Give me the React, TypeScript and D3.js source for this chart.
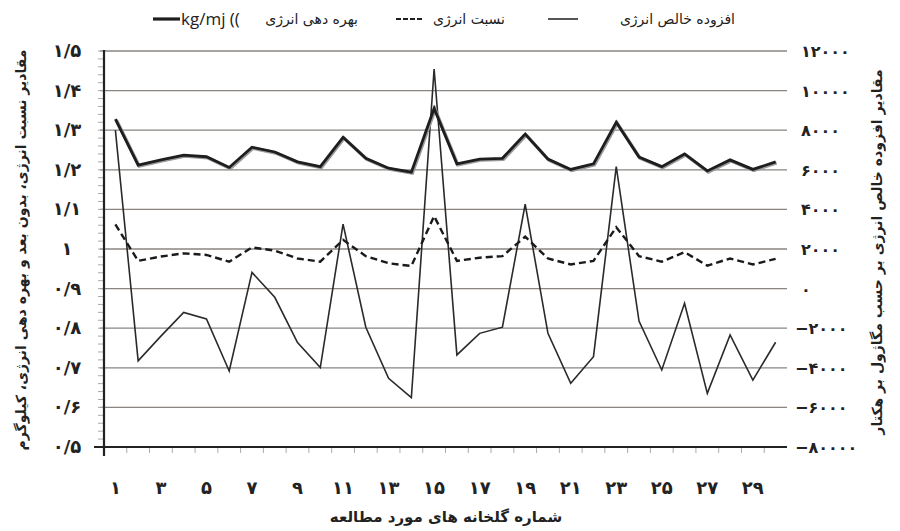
import React, { useEffect, useRef } from 'react';
import * as d3 from 'd3';

// greenhouse numbers 1..30
const greenhouses = d3.range(1, 31);

// energy productivity, kg/MJ (left axis, thick line)
const productivity = [
  1.328, 1.212, 1.225, 1.237, 1.233, 1.206, 1.257, 1.245, 1.22, 1.208,
  1.282, 1.229, 1.204, 1.194, 1.355, 1.215, 1.227, 1.229, 1.29, 1.227,
  1.201, 1.215, 1.32, 1.232, 1.208, 1.24, 1.197, 1.225, 1.201, 1.22,
];

// energy ratio (left axis, dashed line)
const energyRatio = [
  1.062, 0.97, 0.981, 0.989, 0.985, 0.968, 1.004, 0.996, 0.976, 0.968,
  1.023, 0.982, 0.964, 0.957, 1.083, 0.97, 0.978, 0.982, 1.031, 0.976,
  0.961, 0.97, 1.055, 0.982, 0.968, 0.992, 0.958, 0.976, 0.961, 0.975,
];

// net energy gain, MJ/ha (right axis, thin line)
const netEnergy = [
  8000, -3650, -2400, -1200, -1530, -4160, 820, -440, -2730, -3990,
  3260, -1950, -4530, -5510, 11090, -3350, -2260, -1950, 4260, -2260,
  -4780, -3440, 6160, -1640, -4110, -740, -5290, -2340, -4620, -2710,
];

const leftTicks = d3.range(5, 16).map(v => v / 10);
const leftTickLabels = ['۰/۵', '۰/۶', '۰/۷', '۰/۸', '۰/۹', '۱', '۱/۱', '۱/۲', '۱/۳', '۱/۴', '۱/۵'];
const rightTicks = d3.range(-8000, 12001, 2000);
const rightTickLabels = ['−۸۰۰۰۰', '−۶۰۰۰', '−۴۰۰۰', '−۲۰۰۰', '۰', '۲۰۰۰', '۴۰۰۰', '۶۰۰۰', '۸۰۰۰', '۱۰۰۰۰', '۱۲۰۰۰'];
const faDigits = '۰۱۲۳۴۵۶۷۸۹';
const toFa = (n: number) => String(n).split('').map(c => faDigits[+c]).join('');

const fontFa = '"DejaVu Sans", sans-serif';

const App: React.FC = () => {
  const svgRef = useRef<SVGSVGElement>(null);

  useEffect(() => {
    if (!svgRef.current) return;
    const svg = d3.select(svgRef.current);
    svg.selectAll('*').remove();

    const left = 104, right = 787, top = 51, bottom = 447;

    const x = d3.scaleBand<number>().domain(greenhouses).range([left, right]);
    const cx = (d: number) => (x(d) || 0) + x.bandwidth() / 2;
    const yL = d3.scaleLinear().domain([0.5, 1.5]).range([bottom, top]);
    const yR = d3.scaleLinear().domain([-8000, 12000]).range([bottom, top]);

    // gridlines
    svg.append('g')
      .selectAll('line')
      .data(leftTicks.slice(1))
      .enter()
      .append('line')
      .attr('x1', left - 4)
      .attr('x2', right)
      .attr('y1', d => yL(d))
      .attr('y2', d => yL(d))
      .attr('stroke', '#8a8580')
      .attr('stroke-width', 1.3);

    // minor ticks on left axis
    svg.append('g')
      .selectAll('line')
      .data(d3.range(50, 151, 2).map(v => v / 100))
      .enter()
      .append('line')
      .attr('x1', left - 6)
      .attr('x2', left)
      .attr('y1', d => yL(d))
      .attr('y2', d => yL(d))
      .attr('stroke', '#aaa')
      .attr('stroke-width', 1);

    // x ticks at band boundaries
    svg.append('g')
      .selectAll('line')
      .data(greenhouses.slice(1))
      .enter()
      .append('line')
      .attr('x1', d => x(d) || 0)
      .attr('x2', d => x(d) || 0)
      .attr('y1', bottom)
      .attr('y2', bottom + 6)
      .attr('stroke', '#aaa')
      .attr('stroke-width', 1);

    // axes lines
    svg.append('line')
      .attr('x1', left - 10).attr('x2', right)
      .attr('y1', bottom).attr('y2', bottom)
      .attr('stroke', '#222').attr('stroke-width', 2.2);
    svg.append('line')
      .attr('x1', left).attr('x2', left)
      .attr('y1', top - 1).attr('y2', bottom + 9)
      .attr('stroke', '#222').attr('stroke-width', 2.2);

    // left tick labels
    svg.append('g')
      .selectAll('text')
      .data(leftTicks)
      .enter()
      .append('text')
      .attr('x', 67)
      .attr('y', d => yL(d) + 6)
      .attr('text-anchor', 'middle')
      .attr('direction', 'ltr')
      .attr('font-family', fontFa)
      .attr('font-size', 18)
      .attr('font-weight', 'bold')
      .attr('fill', '#222')
      .text((d, i) => leftTickLabels[i]);

    // right tick labels
    svg.append('g')
      .selectAll('text')
      .data(rightTicks)
      .enter()
      .append('text')
      .attr('x', d => (d < 0 ? 795 : 801))
      .attr('y', d => yR(d) + 6)
      .attr('text-anchor', 'start')
      .attr('direction', 'ltr')
      .attr('font-family', fontFa)
      .attr('font-size', 16)
      .attr('font-weight', 'bold')
      .attr('letter-spacing', 1)
      .attr('fill', '#222')
      .text((d, i) => rightTickLabels[i]);

    // x tick labels (odd greenhouses)
    svg.append('g')
      .selectAll('text')
      .data(greenhouses.filter(d => d % 2 === 1))
      .enter()
      .append('text')
      .attr('x', d => cx(d))
      .attr('y', 494)
      .attr('text-anchor', 'middle')
      .attr('font-family', fontFa)
      .attr('font-size', 18)
      .attr('font-weight', 'bold')
      .attr('fill', '#222')
      .text(d => toFa(d));

    // series lines
    const lineL = d3.line<number>().x((d, i) => cx(greenhouses[i])).y(d => yL(d));
    const lineR = d3.line<number>().x((d, i) => cx(greenhouses[i])).y(d => yR(d));

    svg.append('path')
      .attr('d', lineR(netEnergy))
      .attr('fill', 'none')
      .attr('stroke', '#2a2a2a')
      .attr('stroke-width', 1.6)
      .attr('stroke-linejoin', 'miter');

    svg.append('path')
      .attr('d', lineL(energyRatio))
      .attr('fill', 'none')
      .attr('stroke', '#1a1a1a')
      .attr('stroke-width', 2.4)
      .attr('stroke-dasharray', '7,4');

    svg.append('path')
      .attr('d', lineL(productivity))
      .attr('fill', 'none')
      .attr('stroke', '#9a9a9a')
      .attr('stroke-width', 3.4)
      .attr('transform', 'translate(1,1)');
    svg.append('path')
      .attr('d', lineL(productivity))
      .attr('fill', 'none')
      .attr('stroke', '#1e1e1e')
      .attr('stroke-width', 2.8);

    // legend
    const lg = svg.append('g').attr('font-family', fontFa).attr('fill', '#222');
    lg.append('line').attr('x1', 153).attr('x2', 180).attr('y1', 19).attr('y2', 19)
      .attr('stroke', '#1e1e1e').attr('stroke-width', 3.2);
    lg.append('text').attr('x', 181).attr('y', 25).attr('font-size', 17)
      .attr('font-family', '"Open Sans", sans-serif').text('kg/mj ((');
    lg.append('text').attr('x', 358).attr('y', 24).attr('font-size', 14)
      .attr('text-anchor', 'start').attr('direction', 'rtl').text('بهره دهی انرژی');
    lg.append('line').attr('x1', 396).attr('x2', 424).attr('y1', 19).attr('y2', 19)
      .attr('stroke', '#1e1e1e').attr('stroke-width', 2.2).attr('stroke-dasharray', '5,2');
    lg.append('text').attr('x', 505).attr('y', 24).attr('font-size', 14)
      .attr('text-anchor', 'start').attr('direction', 'rtl').text('نسبت انرژی');
    lg.append('line').attr('x1', 548).attr('x2', 578).attr('y1', 19).attr('y2', 19)
      .attr('stroke', '#2a2a2a').attr('stroke-width', 1.6);
    lg.append('text').attr('x', 735).attr('y', 24).attr('font-size', 14)
      .attr('text-anchor', 'start').attr('direction', 'rtl').text('افزوده خالص انرژی');

    // axis titles
    svg.append('text')
      .attr('transform', 'translate(26,250) rotate(-90)')
      .attr('text-anchor', 'middle')
      .attr('direction', 'rtl')
      .attr('font-family', fontFa)
      .attr('font-size', 14)
      .attr('font-weight', 'bold')
      .attr('fill', '#222')
      .text('مقادیر نسبت انرژی، بدون بعد و بهره دهی انرژی، کیلوگرم');
    svg.append('text')
      .attr('transform', 'translate(882,252) rotate(-90)')
      .attr('text-anchor', 'middle')
      .attr('direction', 'rtl')
      .attr('font-family', fontFa)
      .attr('font-size', 14)
      .attr('font-weight', 'bold')
      .attr('fill', '#222')
      .text('مقادیر افزوده خالص انرژی بر حسب مگاژول بر هکتار');
    svg.append('text')
      .attr('x', 446)
      .attr('y', 522)
      .attr('text-anchor', 'middle')
      .attr('direction', 'rtl')
      .attr('font-family', fontFa)
      .attr('font-size', 15)
      .attr('font-weight', 'bold')
      .attr('fill', '#222')
      .text('شماره گلخانه های مورد مطالعه');
  }, []);

  return (
    <div style={{ position: 'absolute', left: 0, top: 0, width: 900, height: 531, background: '#fff' }}>
      <svg ref={svgRef} width={900} height={531} />
    </div>
  );
};

export default App;
